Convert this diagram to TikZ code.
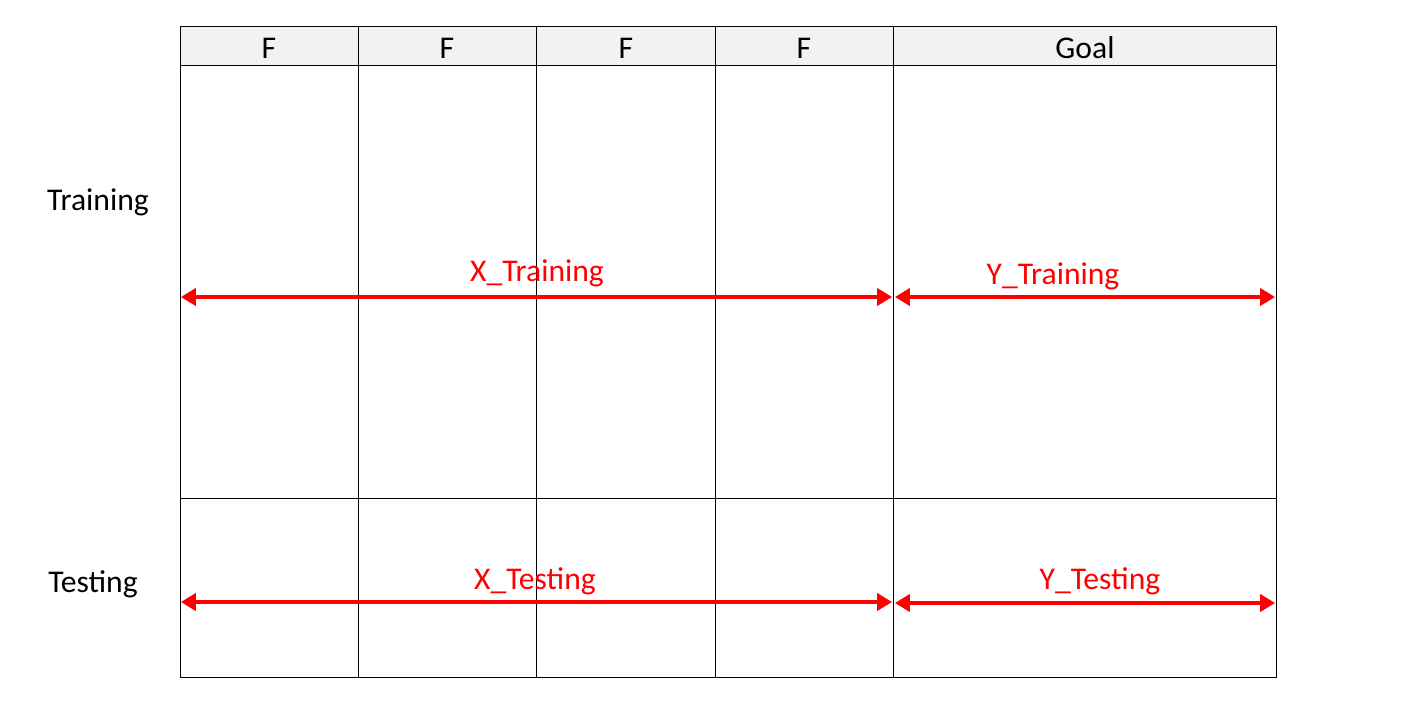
\documentclass[tikz,border=0pt]{standalone}
\usepackage{fontspec}
\setmainfont{Carlito}
\usepackage{xcolor}
\usetikzlibrary{arrows.meta}
\definecolor{headergray}{RGB}{242,242,242}
\definecolor{splitred}{RGB}{255,0,0}

\begin{document}
\begin{tikzpicture}[x=0.02cm, y=-0.02cm, font=\fontsize{18}{21}\selectfont,
    grid/.style={draw=black, line width=0.55pt},
    span/.style={{Triangle[length=0.3cm, width=0.34cm]}-{Triangle[length=0.3cm, width=0.34cm]},
                 draw=splitred, line width=2.2pt, shorten <=0.5pt, shorten >=0.5pt},
    spanlabel/.style={text=splitred, inner sep=0pt},
    rowlabel/.style={inner sep=0pt}]

\useasboundingbox[fill=white] (0,0) rectangle (1401,726);

% table
\fill[headergray] (180,26) rectangle (1276,65);
\draw[grid] (180,26) rectangle (1276,677);
\draw[grid] (180,65) -- (1276,65);
\draw[grid] (180,498) -- (1276,498);
\draw[grid] (358,26) -- (358,677);
\draw[grid] (536,26) -- (536,677);
\draw[grid] (715,26) -- (715,677);
\draw[grid] (893,26) -- (893,677);

% header
\node (f1) at (269,48) {F};
\node (f2) at (447,48) {F};
\node (f3) at (626,48) {F};
\node (f4) at (804,48) {F};
\node (goal) at (1085,48) {Goal};

% rows
\node[rowlabel] (train) at (98,202) {Training};
\node[rowlabel] (test) at (93,584) {Testing};

% arrow ends
\coordinate (xtrL) at (180,297);
\coordinate (xtrR) at (893,297);
\coordinate (ytrL) at (894,297);
\coordinate (ytrR) at (1276,297);
\coordinate (xteL) at (180,602);
\coordinate (xteR) at (893,602);
\coordinate (yteL) at (894,603);
\coordinate (yteR) at (1276,603);

\draw[span] (xtrL) -- (xtrR);
\draw[span] (ytrL) -- (ytrR);
\draw[span] (xteL) -- (xteR);
\draw[span] (yteL) -- (yteR);

\node[spanlabel] (xtr) at (537,273) {X\_Training};
\node[spanlabel] (ytr) at (1053,276) {Y\_Training};
\node[spanlabel] (xte) at (535,581) {X\_Testing};
\node[spanlabel] (yte) at (1100,581) {Y\_Testing};
\end{tikzpicture}
\end{document}
